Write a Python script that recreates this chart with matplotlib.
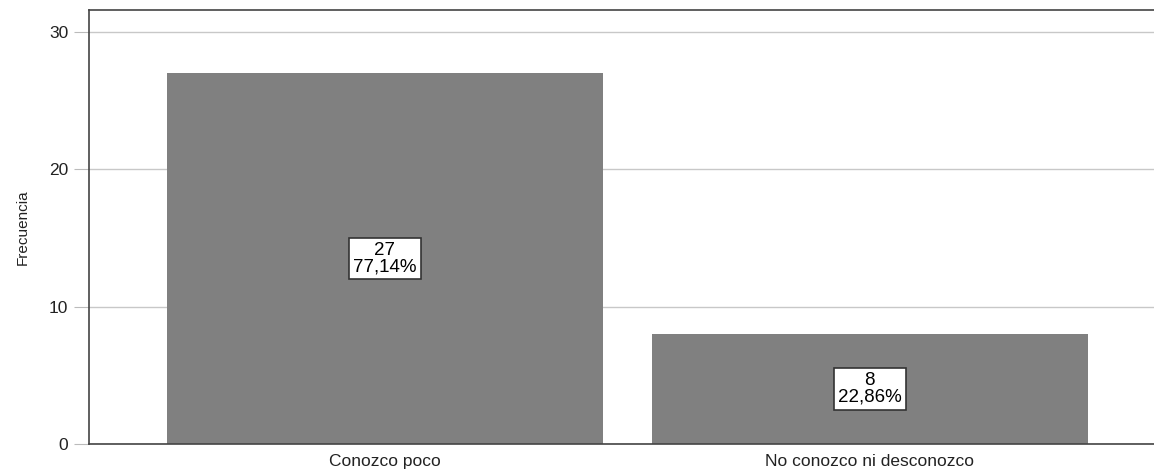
import matplotlib
matplotlib.use("Agg")
import matplotlib.pyplot as plt

categories = ["Conozco poco", "No conozco ni desconozco"]
counts = [27, 8]
percents = ["77,14%", "22,86%"]
yticks = [0, 10, 20, 30]

plt.rcParams['font.family'] = ['Liberation Sans', 'DejaVu Sans']

fig = plt.figure(figsize=(11.54, 4.73), dpi=100)
ax = fig.add_axes([89 / 1154, 29 / 473, 1 - 89 / 1154, 434 / 473])

x = range(len(categories))
ax.bar(x, counts, width=0.9, color="#808080", zorder=2)

for xi, c, p in zip(x, counts, percents):
    ax.text(xi, c / 2, f"{c}\n{p}", ha="center", va="center", fontsize=13.5,
            linespacing=0.95, zorder=3,
            bbox=dict(boxstyle="square,pad=0.22", fc="white", ec="#333333", lw=1.2))

ax.set_xlim(-0.61, 1.586)
ax.set_ylim(0, 31.6)
ax.set_yticks(yticks)
ax.set_xticks(list(x))
ax.set_xticklabels(categories, fontsize=12.5)
ax.tick_params(axis="y", labelsize=12.5, length=11, color="#bbbbbb", pad=4, labelcolor="#222222")
ax.tick_params(axis="x", length=0, pad=7, labelcolor="#222222")
ax.yaxis.grid(True, color="#c8c8c8", lw=1, zorder=1)
ax.set_axisbelow(True)

for side in ["left", "bottom", "top"]:
    ax.spines[side].set_color("#444444")
    ax.spines[side].set_linewidth(1.2)
ax.spines["right"].set_visible(False)

ax.set_ylabel("Frecuencia", fontsize=11, labelpad=14, color="#222222")

fig.savefig("out.png", dpi=100)
